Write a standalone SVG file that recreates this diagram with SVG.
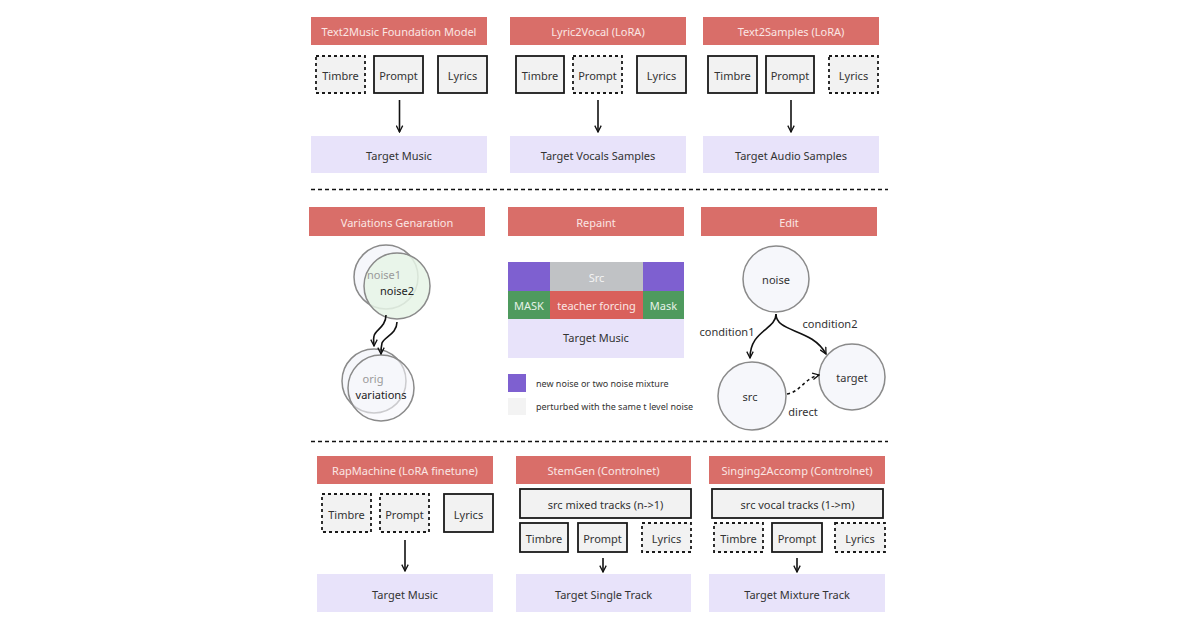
<svg xmlns="http://www.w3.org/2000/svg" width="1200" height="630" viewBox="0 0 1200 630">
<defs>
<marker id="ah" viewBox="0 0 10 10" refX="9" refY="5" markerWidth="8" markerHeight="8" orient="auto" markerUnits="userSpaceOnUse">
<path d="M1,1 L9,5 L1,9" fill="none" stroke="#111" stroke-width="1.6"/>
</marker>
<style>
text{font-family:"Noto Sans","Liberation Sans",sans-serif;font-size:11px;text-anchor:middle;dominant-baseline:central;fill:#333}
.hdr{fill:#d96e69}
text.hdr-t{fill:#fbe6e4}
text.light{fill:#f4f4f4}
text.gt{fill:#e6f2e8}
text.faint{fill:#9a9a9a}
text.dark{fill:#222}
.box{fill:#f2f2f2;stroke:#1a1a1a;stroke-width:1.8}
.dbox{fill:#f2f2f2;stroke:#1a1a1a;stroke-width:1.8;stroke-dasharray:3 3}
.tgt{fill:#e8e3fa}
.sep{stroke:#111;stroke-width:1.5;stroke-dasharray:4 3}
.arr{fill:none;stroke:#111;stroke-width:1.6}
.circ{fill:#f6f7fb;stroke:#8a8a8a;stroke-width:1.5}
text.lt{fill:#333;font-size:9px;text-anchor:start}
</style>
</defs>
<rect width="1200" height="630" fill="#ffffff"/>

<g id="separators">
<line class="sep" x1="311" y1="189.5" x2="888" y2="189.5"/>
<line class="sep" x1="311" y1="441.5" x2="888" y2="441.5"/>
</g>

<!-- Top row -->
<g id="t2m">
<rect class="hdr" x="311" y="17" width="176" height="28"/>
<text class="hdr-t" x="399" y="31">Text2Music Foundation Model</text>
<rect class="dbox" x="316" y="56" width="49" height="37"/><text x="340.5" y="75">Timbre</text>
<rect class="box" x="374" y="56" width="49" height="37"/><text x="398.5" y="75">Prompt</text>
<rect class="box" x="438" y="56" width="49" height="37"/><text x="462.5" y="75">Lyrics</text>
<rect class="tgt" x="311" y="136" width="176" height="37"/><text x="399" y="155">Target Music</text>
</g>
<g id="l2v">
<rect class="hdr" x="510" y="17" width="176" height="28"/>
<text class="hdr-t" x="598" y="31">Lyric2Vocal (LoRA)</text>
<rect class="box" x="516" y="56" width="48" height="37"/><text x="540" y="75">Timbre</text>
<rect class="dbox" x="573" y="56" width="49" height="37"/><text x="597.5" y="75">Prompt</text>
<rect class="box" x="637" y="56" width="49" height="37"/><text x="661.5" y="75">Lyrics</text>
<rect class="tgt" x="510" y="136" width="176" height="37"/><text x="598" y="155">Target Vocals Samples</text>
</g>
<g id="t2s">
<rect class="hdr" x="703" y="17" width="176" height="28"/>
<text class="hdr-t" x="791" y="31">Text2Samples (LoRA)</text>
<rect class="box" x="708" y="56" width="49" height="37"/><text x="732.5" y="75">Timbre</text>
<rect class="box" x="766" y="56" width="48" height="37"/><text x="790" y="75">Prompt</text>
<rect class="dbox" x="829" y="56" width="49" height="37"/><text x="853.5" y="75">Lyrics</text>
<rect class="tgt" x="703" y="136" width="176" height="37"/><text x="791" y="155">Target Audio Samples</text>
</g>

<!-- Middle row -->
<g id="variations">
<rect class="hdr" x="309" y="207" width="176" height="29"/>
<text class="hdr-t" x="397" y="222">Variations Genaration</text>
<circle cx="386" cy="277" r="32" fill="#f6f7fb" stroke="#8a8a8a" stroke-width="1.5"/>
<circle cx="397" cy="286" r="33" fill="#e6f4e6" fill-opacity="0.85" stroke="#8a8a8a" stroke-width="1.5"/>
<text class="faint" x="384" y="274">noise1</text>
<text class="dark" x="397" y="290">noise2</text>
<circle cx="374" cy="381" r="32" fill="#f6f7fb" stroke="#8a8a8a" stroke-width="1.5"/>
<circle cx="381" cy="388" r="33" fill="#f6f7fb" fill-opacity="0.6" stroke="#8a8a8a" stroke-width="1.5"/>
<text class="faint" x="373" y="378">orig</text>
<text class="dark" x="381" y="394">variations</text>
</g>
<g id="repaint">
<rect class="hdr" x="508" y="207" width="176" height="29"/>
<text class="hdr-t" x="596" y="222">Repaint</text>
<rect x="508" y="262" width="42" height="29" fill="#7e60d0"/>
<rect x="550" y="262" width="93" height="29" fill="#c0c2c5"/>
<text class="light" x="596.5" y="277">Src</text>
<rect x="643" y="262" width="41" height="29" fill="#7e60d0"/>
<rect x="508" y="291" width="42" height="28" fill="#4e9a5e"/>
<text class="gt" x="529" y="305">MASK</text>
<rect x="550" y="291" width="93" height="28" fill="#d9605b"/>
<text class="hdr-t" x="596.5" y="305">teacher forcing</text>
<rect x="643" y="291" width="41" height="28" fill="#4e9a5e"/>
<text class="gt" x="663.5" y="305">Mask</text>
<rect class="tgt" x="508" y="319" width="176" height="39"/>
<text x="596" y="337">Target Music</text>
<rect x="508" y="374" width="18" height="18" fill="#7e60d0"/>
<text class="lt" x="536" y="383">new noise or two noise mixture</text>
<rect x="508" y="398" width="18" height="17" fill="#f3f3f3"/>
<text class="lt" x="536" y="406">perturbed with the same t level noise</text>
</g>
<g id="edit">
<rect class="hdr" x="701" y="207" width="176" height="29"/>
<text class="hdr-t" x="789" y="222">Edit</text>
<circle class="circ" cx="776" cy="279" r="33"/><text x="776" y="279">noise</text>
<circle class="circ" cx="752" cy="396" r="34"/><text x="750" y="396">src</text>
<circle class="circ" cx="852" cy="377" r="33"/><text x="852" y="377">target</text>
<text x="727" y="331">condition1</text>
<text x="830" y="323">condition2</text>
<text x="803" y="411">direct</text>
</g>

<!-- Bottom row -->
<g id="rap">
<rect class="hdr" x="317" y="456" width="176" height="28"/>
<text class="hdr-t" x="405" y="470">RapMachine (LoRA finetune)</text>
<rect class="dbox" x="322" y="494" width="49" height="38"/><text x="346.5" y="514">Timbre</text>
<rect class="dbox" x="380" y="494" width="49" height="38"/><text x="404.5" y="514">Prompt</text>
<rect class="box" x="444" y="494" width="49" height="38"/><text x="468.5" y="514">Lyrics</text>
<rect class="tgt" x="317" y="574" width="176" height="38"/><text x="405" y="594">Target Music</text>
</g>
<g id="stemgen">
<rect class="hdr" x="516" y="456" width="175" height="28"/>
<text class="hdr-t" x="603.5" y="470">StemGen (Controlnet)</text>
<rect class="box" x="520" y="489" width="171" height="29"/><text x="605.5" y="504">src mixed tracks (n-&gt;1)</text>
<rect class="box" x="520" y="523" width="48" height="29"/><text x="544" y="538">Timbre</text>
<rect class="box" x="578" y="523" width="49" height="29"/><text x="602.5" y="538">Prompt</text>
<rect class="dbox" x="642" y="523" width="49" height="29"/><text x="666.5" y="538">Lyrics</text>
<rect class="tgt" x="516" y="574" width="175" height="38"/><text x="603.5" y="594">Target Single Track</text>
</g>
<g id="s2a">
<rect class="hdr" x="709" y="456" width="176" height="28"/>
<text class="hdr-t" x="797" y="470">Singing2Accomp (Controlnet)</text>
<rect class="box" x="712" y="489" width="171" height="29"/><text x="797.5" y="504">src vocal tracks (1-&gt;m)</text>
<rect class="dbox" x="714" y="523" width="49" height="29"/><text x="738.5" y="538">Timbre</text>
<rect class="box" x="772" y="523" width="50" height="29"/><text x="797" y="538">Prompt</text>
<rect class="dbox" x="835" y="523" width="50" height="29"/><text x="860" y="538">Lyrics</text>
<rect class="tgt" x="709" y="574" width="176" height="38"/><text x="797" y="594">Target Mixture Track</text>
</g>

<g id="connectors">
<line class="arr" x1="399.5" y1="100" x2="399.5" y2="132" marker-end="url(#ah)"/>
<line class="arr" x1="598" y1="100" x2="598" y2="132" marker-end="url(#ah)"/>
<line class="arr" x1="791" y1="100" x2="791" y2="132" marker-end="url(#ah)"/>
<path class="arr" d="M386,315 C386,327 375,330 374,336 C373,340 374,342 374,346" marker-end="url(#ah)"/>
<path class="arr" d="M397,322 C397,334 384,337 382,343 C381,347 381,350 381,354" marker-end="url(#ah)"/>
<path class="arr" d="M776,314 C776,330 750,330 750,358" marker-end="url(#ah)"/>
<path class="arr" d="M776,314 C776,333 812,328 826,354" marker-end="url(#ah)"/>
<path class="arr" d="M787,394 C800,392 805,378 819,375" stroke-dasharray="3 3" marker-end="url(#ah)"/>
<line class="arr" x1="405" y1="540" x2="405" y2="571" marker-end="url(#ah)"/>
<line class="arr" x1="603" y1="558" x2="603" y2="572" marker-end="url(#ah)"/>
<line class="arr" x1="797" y1="558" x2="797" y2="572" marker-end="url(#ah)"/>
</g>
</svg>
